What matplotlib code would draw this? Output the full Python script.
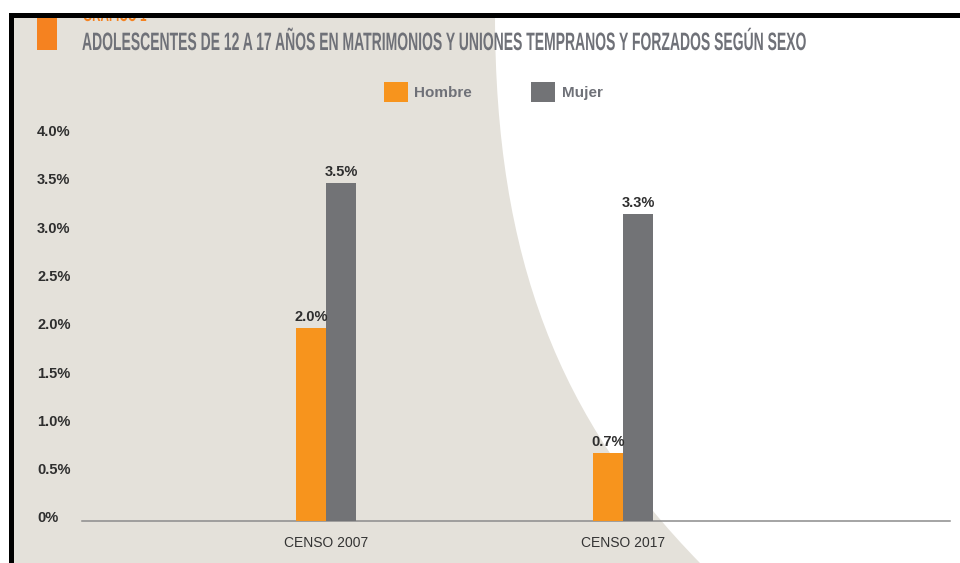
import matplotlib
matplotlib.use("Agg")
import matplotlib.pyplot as plt
import numpy as np
from matplotlib.patches import Rectangle, PathPatch
from matplotlib.path import Path
from matplotlib.transforms import Affine2D, ScaledTranslation
from matplotlib.patheffects import AbstractPathEffect

# ---------------- data ----------------
categories = ["CENSO 2007", "CENSO 2017"]
series_names = ["Hombre", "Mujer"]
hombre = [2.0, 0.7]
mujer = [3.5, 3.18]
hombre_labels = ["2.0%", "0.7%"]
mujer_labels = ["3.5%", "3.3%"]
yticks = [0.0, 0.5, 1.0, 1.5, 2.0, 2.5, 3.0, 3.5, 4.0]
ytick_labels = ["0%", "0.5%", "1.0%", "1.5%", "2.0%", "2.5%", "3.0%", "3.5%", "4.0%"]
title = "ADOLESCENTES DE 12 A 17 AÑOS EN MATRIMONIOS Y UNIONES TEMPRANOS Y FORZADOS SEGÚN SEXO"
kicker = "GRÁFICO 1"

ORANGE = "#F7941D"
GRAY = "#727376"
BEIGE = "#E4E1DA"
TITLE_GRAY = "#6F7178"
TEXT_DARK = "#2E2E2E"

W, H = 960, 563
DPI = 100
plt.rcParams["font.family"] = ["Liberation Sans", "DejaVu Sans"]

fig = plt.figure(figsize=(W / DPI, H / DPI), dpi=DPI)
fig.patch.set_facecolor("white")


def fx(x):
    return x / W


def fy(y):
    return (H - y) / H


# ---------------- background ----------------
fig.patches.append(Rectangle((fx(14), fy(H)), fx(W - 14), (H - 18) / H,
                             transform=fig.transFigure, facecolor=BEIGE,
                             edgecolor="none", zorder=0))
curve = [(495, 15), (495, 260), (560, 420), (700, 563)]
verts = [(fx(x), fy(y)) for x, y in curve] + [(fx(W), fy(H)), (fx(W), fy(15)), (fx(495), fy(15))]
codes = [Path.MOVETO, Path.CURVE4, Path.CURVE4, Path.CURVE4, Path.LINETO, Path.LINETO, Path.CLOSEPOLY]
fig.patches.append(PathPatch(Path(verts, codes), transform=fig.transFigure,
                             facecolor="white", edgecolor="none", zorder=0.5))

# orange marker square
fig.patches.append(Rectangle((fx(37), fy(50)), fx(20), 32 / H, transform=fig.transFigure,
                             facecolor="#F58220", edgecolor="none", zorder=1))

# ---------------- axes ----------------
ax_left, ax_right = 82, 950
ax_bottom, ax_top = 521, 521 - 4.0 * 96.6
ax = fig.add_axes([fx(ax_left), fy(ax_bottom), (ax_right - ax_left) / W, (ax_bottom - ax_top) / H])
ax.set_facecolor("none")
ax.set_zorder(2)

x = np.arange(len(categories))
w = 30 / 297
b1 = ax.bar(x - w / 2, hombre, w, color=ORANGE, label=series_names[0], zorder=3)
b2 = ax.bar(x + w / 2, mujer, w, color=GRAY, label=series_names[1], zorder=3)
ax.bar_label(b1, labels=hombre_labels, padding=3, fontsize=10.5, fontweight="bold", color=TEXT_DARK)
ax.bar_label(b2, labels=mujer_labels, padding=3, fontsize=10.5, fontweight="bold", color=TEXT_DARK)

ax.set_xlim((ax_left - 326) / 297, (ax_right - 326) / 297)
ax.set_ylim(0, 4.0)
ax.set_xticks(x)
ax.set_xticklabels(categories, fontsize=10, color="#333333")
ax.set_yticks(yticks)
ax.set_yticklabels(ytick_labels, fontsize=10.5, fontweight="bold", color=TEXT_DARK, ha="left")
ax.tick_params(axis="x", length=0, pad=11)
ax.tick_params(axis="y", length=0, pad=32.4)
for sp in ["top", "right", "left"]:
    ax.spines[sp].set_visible(False)
ax.spines["bottom"].set_color("#8C8C8C")
ax.spines["bottom"].set_linewidth(1.1)
ax.spines["bottom"].set_zorder(2)

off = ScaledTranslation(0, 4 / DPI, fig.dpi_scale_trans)
for lab in ax.get_yticklabels():
    lab.set_transform(lab.get_transform() + off)

leg = ax.legend(handles=[b1, b2], loc="center left", bbox_to_anchor=(fx(384), fy(92)),
                bbox_transform=fig.transFigure, ncol=2, frameon=False, fontsize=11,
                handlelength=1.57, handleheight=1.57, handletextpad=0.4,
                columnspacing=3.9, borderpad=0, borderaxespad=0)
for t in leg.get_texts():
    t.set_color(TITLE_GRAY)
    t.set_fontweight("bold")


# ---------------- title (condensed look via path effect) ----------------
class Scale(AbstractPathEffect):
    def __init__(self, sx, sy, x0, y0):
        super().__init__()
        self.sx, self.sy, self.x0, self.y0 = sx, sy, x0, y0

    def draw_path(self, renderer, gc, tpath, affine, rgbFace=None):
        t = affine + Affine2D().translate(-self.x0, -self.y0).scale(self.sx, self.sy).translate(self.x0, self.y0)
        renderer.draw_path(gc, tpath, t, rgbFace)


TITLE_FS = 18.1
ttl = fig.text(fx(82), fy(50), title, fontsize=TITLE_FS, fontweight="bold", color=TITLE_GRAY,
               ha="left", va="baseline", zorder=3)
kick = fig.text(fx(83), fy(21), kicker, fontsize=14, fontweight="bold", color="#F58220",
                ha="left", va="baseline", zorder=3)

fig.canvas.draw()
bb = ttl.get_window_extent()
fs2 = TITLE_FS * (803 - 82) / bb.width
ttl.set_fontsize(fs2)
fig.canvas.draw()
bb2 = ttl.get_window_extent()
ttl.set_path_effects([Scale((803 - 82) / bb2.width, TITLE_FS / fs2, bb2.x0, H - 50)])
bk = kick.get_window_extent()
kick.set_path_effects([Scale(0.6, 1.0, bk.x0, H - 21)])

# top white band + black frame
fig.patches.append(Rectangle((0, fy(13)), 1, 13 / H, transform=fig.transFigure,
                             facecolor="white", edgecolor="none", zorder=9))
fig.patches.append(Rectangle((fx(9), fy(18)), fx(W - 9), 5 / H, transform=fig.transFigure,
                             facecolor="black", edgecolor="none", zorder=10))
fig.patches.append(Rectangle((fx(9), fy(H)), fx(5), (H - 13) / H, transform=fig.transFigure,
                             facecolor="black", edgecolor="none", zorder=10))

fig.savefig("out.png", dpi=DPI, facecolor="white")
